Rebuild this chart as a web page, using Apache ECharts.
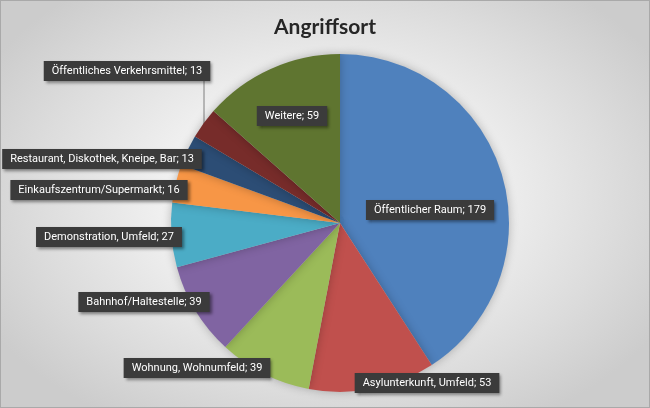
<!DOCTYPE html>
<html><head><meta charset="utf-8">
<script src="https://cdn.jsdelivr.net/npm/echarts@6/dist/echarts.min.js"></script>
<style>
html,body{margin:0;padding:0;}
#c{width:650px;height:408px;box-sizing:border-box;border:1px solid #a9a9a9;
background:radial-gradient(ellipse 60% 65% at 50% 48%, #ffffff 0%, #f4f4f4 35%, #dcdcdc 75%, #cccccc 100%);}
</style></head>
<body><div id="c"></div>
<script>
var categories = ['Öffentlicher Raum','Asylunterkunft, Umfeld','Wohnung, Wohnumfeld','Bahnhof/Haltestelle','Demonstration, Umfeld','Einkaufszentrum/Supermarkt','Restaurant, Diskothek, Kneipe, Bar','Öffentliches Verkehrsmittel','Weitere'];
var values = [179,53,39,39,27,16,13,13,59];
var colors = ['#4F81BD','#C0504D','#9BBB59','#8064A2','#4BACC6','#F79646','#2C4D75','#772C2A','#5F7530'];
// label box centres (styling)
var labelPos = [[429,209],[426,382],[196,367],[143,301],[108,236],[98,189],[101,158],[126,70],[291,115]];

var chart = echarts.init(document.getElementById('c'), null, {renderer:'canvas'});
var data = categories.map(function(n,i){
  return {name:n, value:values[i], itemStyle:{color:colors[i]},
    labelLine:{show: i===7}};
});
chart.setOption({
  backgroundColor:'transparent',
  animation:false,
  title:{text:'Angriffsort', left:'center', top:11,
    textStyle:{fontFamily:'Lato', fontWeight:'bold', fontSize:21, color:'#262626'}},
  series:[{
    type:'pie', center:[339,222], radius:169, startAngle:90, clockwise:true,
    avoidLabelOverlap:false,
    data:data,
    itemStyle:{shadowBlur:10, shadowColor:'rgba(0,0,0,0.25)', borderWidth:0},
    label:{show:true, position:'outside', formatter:'{b}; {c}',
      color:'#ffffff', fontFamily:'Roboto', fontSize:11,
      backgroundColor:'#3b3b3b', padding:[5,8,4,8],
      shadowColor:'rgba(0,0,0,0.45)', shadowBlur:3, shadowOffsetX:2, shadowOffsetY:2},
    labelLine:{lineStyle:{color:'#7f7f7f', width:1}, length:10, length2:10},
    labelLayout:function(p){
      var pos = labelPos[p.dataIndex];
      var o = {x:pos[0], y:pos[1], align:'center', verticalAlign:'middle'};
      if (p.dataIndex===7) { o.labelLinePoints = [[203,124],[203,100],[203,80]]; }
      return o;
    }
  }]
});
</script></body></html>
